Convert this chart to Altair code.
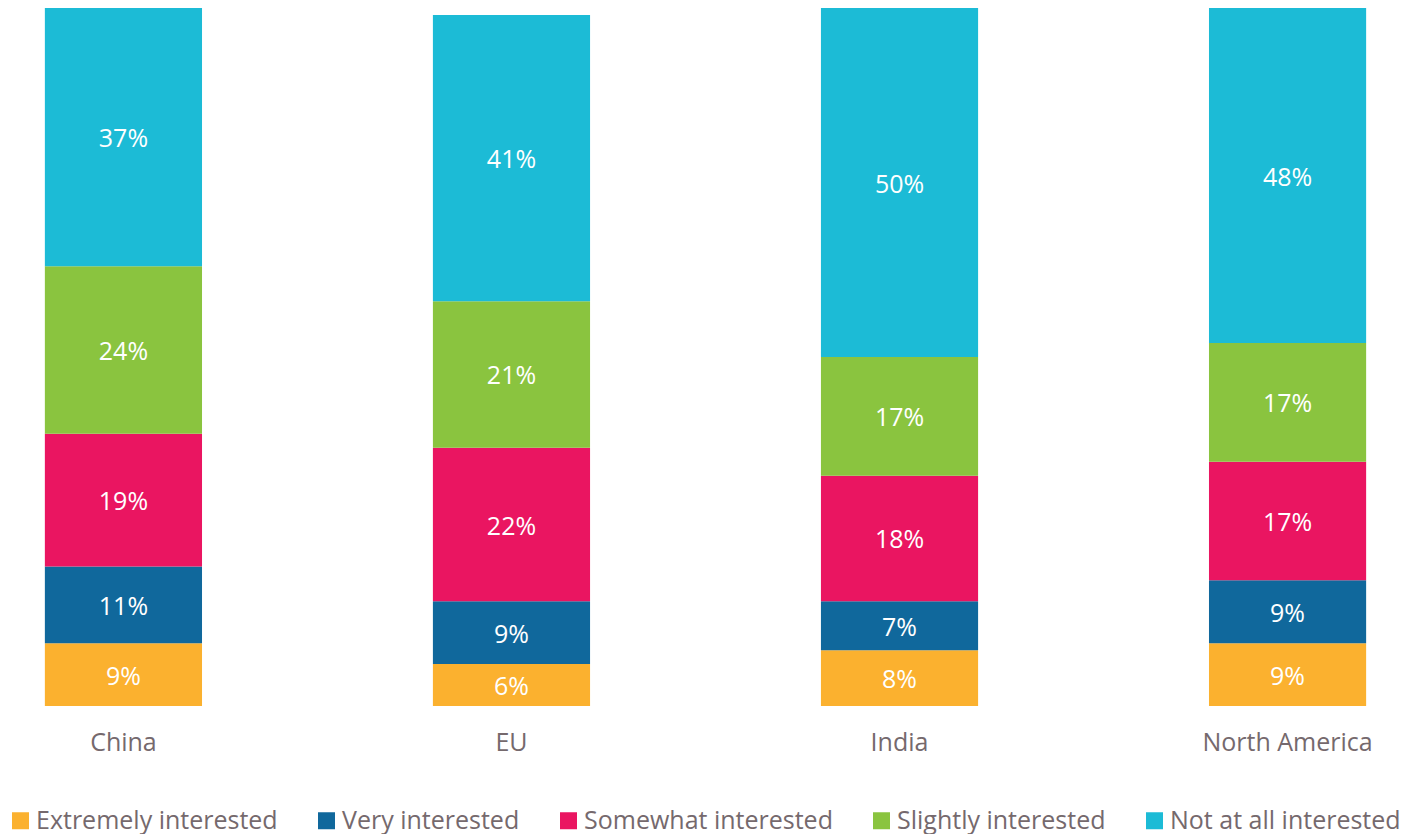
import altair as alt
import pandas as pd

regions = ["China", "EU", "India", "North America"]
levels = ["Extremely interested", "Very interested", "Somewhat interested",
          "Slightly interested", "Not at all interested"]
extremely = [9, 6, 8, 9]
very = [11, 9, 7, 9]
somewhat = [19, 22, 18, 17]
slightly = [24, 21, 17, 17]
not_at_all = [37, 41, 50, 48]
colors = ["#FBB12F", "#10689C", "#EA1561", "#8AC43F", "#1CBBD6"]

series = [extremely, very, somewhat, slightly, not_at_all]
rows = []
for li, (lev, vals) in enumerate(zip(levels, series)):
    for r, v in zip(regions, vals):
        rows.append({"region": r, "level": lev, "order": li, "value": v})
df = pd.DataFrame(rows)

FONT = "Open Sans"
GRAY = "#75696D"
FS = 25

base = alt.Chart(df).transform_stack(
    stack="value", groupby=["region"], as_=["v0", "v1"],
    sort=[alt.SortField("order", order="ascending")]
).transform_calculate(mid="(datum.v0 + datum.v1) / 2", lab="datum.value + '%'")

x = alt.X("region:N", sort=regions, title=None,
          scale=alt.Scale(paddingInner=0.595, paddingOuter=0.095),
          axis=alt.Axis(labelAngle=0, domain=False, ticks=False, labelFont=FONT,
                        labelFontSize=FS, labelColor=GRAY, labelPadding=24))

bars = base.mark_bar().encode(
    x=x,
    y=alt.Y("v0:Q", scale=alt.Scale(domain=[0, 100], nice=False), axis=None),
    y2="v1:Q",
    color=alt.Color("level:N", sort=levels,
                    scale=alt.Scale(domain=levels, range=colors),
                    legend=alt.Legend(title=None, orient="none", direction="horizontal",
                                      legendX=0, legendY=800, padding=0,
                                      symbolType="square", symbolSize=289,
                                      symbolStrokeWidth=0, symbolOpacity=1,
                                      labelFont=FONT, labelFontSize=FS,
                                      labelColor=GRAY, labelOffset=3,
                                      columnPadding=36, labelLimit=400)),
)

labels = base.mark_text(font=FONT, fontSize=FS, color="white", dy=2).encode(
    x=alt.X("region:N", sort=regions),
    y=alt.Y("mid:Q"),
    text="lab:N",
)

chart = alt.layer(bars, labels).properties(
    width=1395, height=698, padding=0
).configure_view(stroke=None)

chart.save("out.html", embed_options={"renderer": "svg", "actions": False})
